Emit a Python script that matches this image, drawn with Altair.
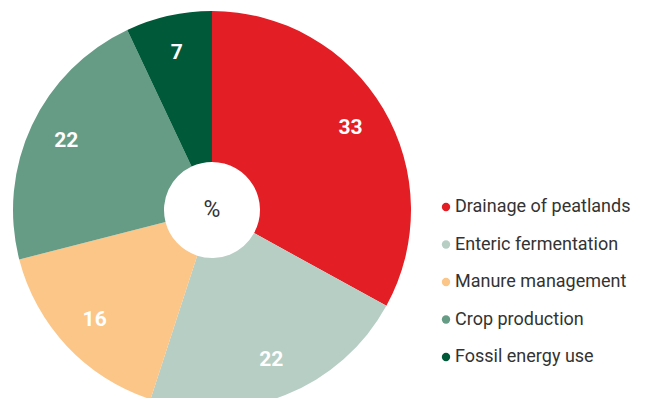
import altair as alt
import pandas as pd

categories = ["Drainage of peatlands", "Enteric fermentation", "Manure management",
              "Crop production", "Fossil energy use"]
values = [33, 22, 16, 22, 7]
colors = ["#E31E24", "#B7CEC5", "#FBC687", "#669C85", "#005A3A"]

df = pd.DataFrame({"category": categories, "value": values, "idx": list(range(len(categories)))})

CX, CY = 204, 202
R, R_IN = 199, 48

base = alt.Chart(df).encode(
    theta=alt.Theta("value:Q", stack=True),
    order=alt.Order("idx:O"),
)

arcs = base.mark_arc(radius=R, radius2=R_IN, stroke=None).encode(
    x=alt.value(CX), y=alt.value(CY),
    color=alt.Color("category:N",
                    scale=alt.Scale(domain=categories, range=colors),
                    legend=alt.Legend(title=None, orient="none", legendX=429, legendY=190,
                                      symbolType="circle", symbolSize=70, symbolStrokeWidth=0,
                                      labelFontSize=18, labelColor="#333333", labelFont="Roboto",
                                      labelLimit=0, rowPadding=19.5, symbolOffset=0,
                                      labelOffset=0)),
)

labels = base.mark_text(radius=161, font="Roboto", fontWeight="bold", fontSize=21,
                        color="white").encode(
    x=alt.value(CX), y=alt.value(CY),
    text=alt.Text("value:Q"),
)

center = alt.Chart(pd.DataFrame({"t": ["%"]})).mark_text(
    font="Roboto", fontSize=23, color="#333333").encode(
    x=alt.value(CX), y=alt.value(CY), text="t:N")

chart = alt.layer(arcs, labels, center).properties(
    width=630, height=390, autosize=alt.AutoSizeParams(type="none"), padding=0
).configure_view(stroke=None)

chart.save("out.html", embed_options={"renderer": "svg", "actions": False})
